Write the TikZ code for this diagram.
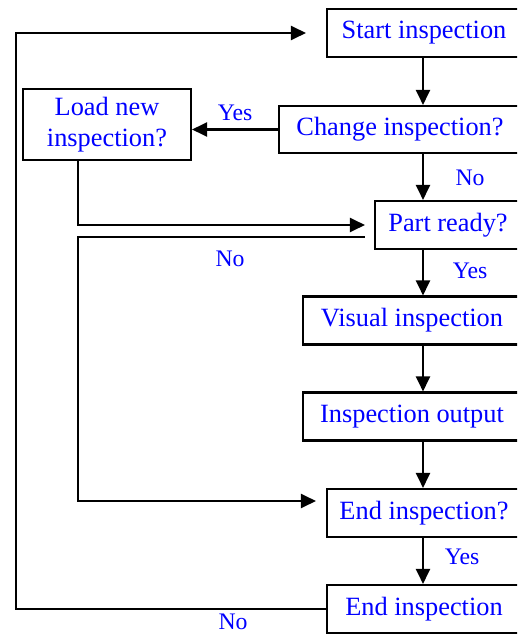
\documentclass[tikz,border=0pt]{standalone}
\usepackage{fontspec}
\setmainfont{Liberation Serif}
\usetikzlibrary{arrows.meta}
\definecolor{txtblue}{RGB}{0,0,255}

\begin{document}
\begin{tikzpicture}[x=0.02cm,y=-0.02cm,
  line width=1.2pt,
  font=\fontsize{15}{18}\selectfont,
  box/.style={rectangle,draw=black,text=txtblue,inner sep=0pt,align=center,
              minimum height=0.96cm},
  arr/.style={-{Triangle[length=0.3cm,width=0.28cm]}},
  lbl/.style={text=txtblue,font=\fontsize{13.5}{16}\selectfont}
]
\useasboundingbox (0,0) rectangle (517,635);
\clip (0,0) rectangle (517,635);

% main column
\node[box,minimum width=3.88cm] (start) at (424,33) {Start inspection};
\node[box,minimum width=4.84cm,minimum height=0.94cm] (change) at (400,129.5) {Change inspection?};
\node[box,minimum width=3.36cm,minimum height=1.42cm] (load) at (107,124.5) {Load new\\inspection?};
\node[box,minimum width=2.92cm] (part) at (448,225) {Part ready?};
\node[box,minimum width=4.36cm] (visual) at (412,320.5) {Visual inspection};
\node[box,minimum width=4.36cm] (output) at (412,416.5) {Inspection output};
\node[box,minimum width=3.88cm] (endq) at (424,513) {End inspection?};
\node[box,minimum width=3.88cm] (end) at (424,609) {End inspection};

\coordinate (spine) at (423,0);
\coordinate (outer) at (16,0);
\coordinate (inner) at (78,0);
\coordinate (nodown) at (78,501);

\draw[arr] (start.south -| spine) -- (change.north -| spine);
\draw[arr] (change.south -| spine) -- (part.north -| spine);
\draw[arr] (part.south -| spine) -- (visual.north -| spine);
\draw[arr] (visual.south -| spine) -- (output.north -| spine);
\draw[arr] (output.south -| spine) -- (endq.north -| spine);
\draw[arr] (endq.south -| spine) -- (end.north -| spine);

\draw[arr] (change.west) -- node[lbl,above=1pt]{Yes} (load.east |- change.west);
\draw[arr,shorten >=0.18cm] (load.south -| inner) |- (part.west);
\draw[arr,shorten <=0.18cm,shorten >=0.2cm]
  ([shift={(0,12)}]part.west) -| (nodown) -- ([shift={(0,-12)}]endq.west);
\draw[arr,shorten >=0.4cm] (end.west) -| (outer |- start) -- (start.west);

% branch labels
\node[lbl] (nochange) at (470,178) {No};
\node[lbl] (yespart) at (470,271) {Yes};
\node[lbl] (nopart) at (230,259) {No};
\node[lbl] (yesend) at (462,557) {Yes};
\node[lbl] (noend) at (233,622) {No};
\end{tikzpicture}
\end{document}
